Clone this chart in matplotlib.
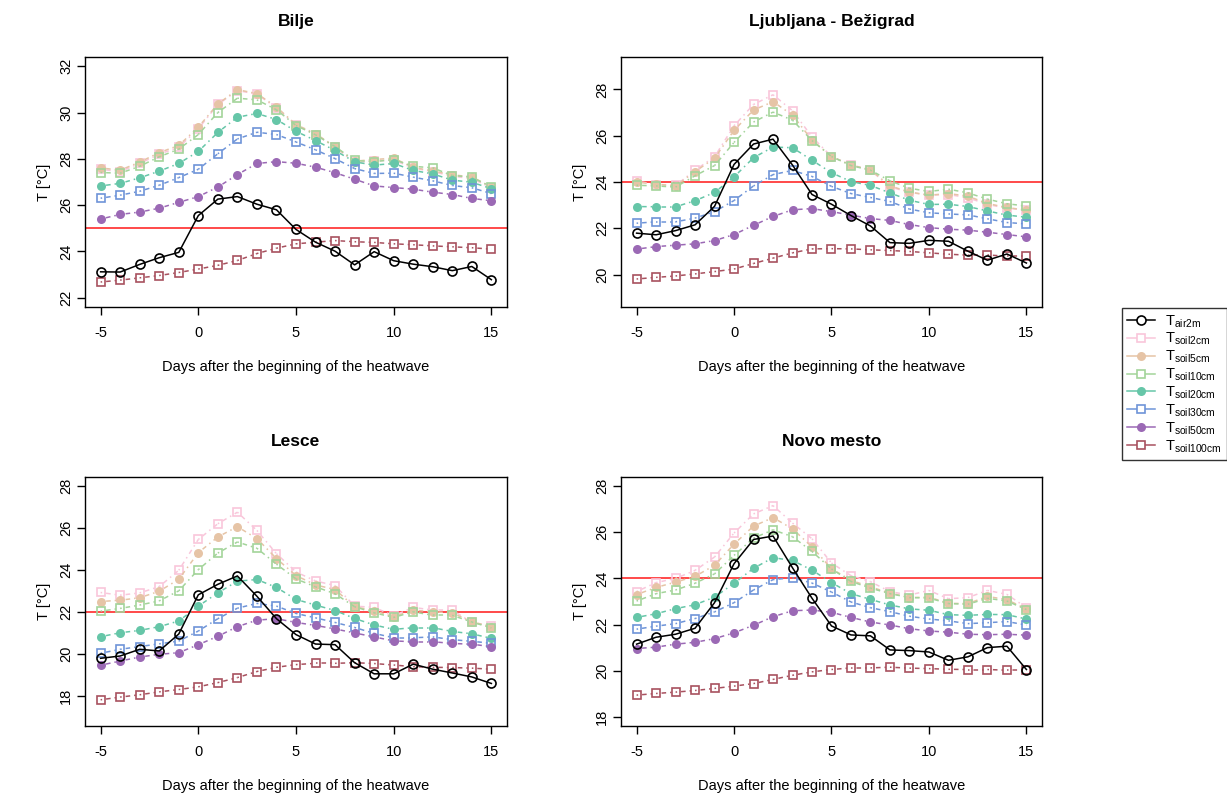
import matplotlib
matplotlib.use("Agg")
import matplotlib.pyplot as plt
from matplotlib.lines import Line2D
import numpy as np

plt.rcParams['font.family'] = ['Liberation Sans', 'DejaVu Sans']
plt.rcParams['mathtext.fontset'] = 'custom'
plt.rcParams['mathtext.rm'] = 'Liberation Sans'
plt.rcParams['mathtext.it'] = 'Liberation Sans'

days = list(range(-5, 16))

stations = ["Bilje", "Ljubljana - Bežigrad", "Lesce", "Novo mesto"]
thresholds = [25, 24, 22, 24]
ylims = [(22, 32), (19, 29), (17, 28), (18, 28)]
yticks = [[22, 24, 26, 28, 30, 32], [20, 22, 24, 26, 28], [18, 20, 22, 24, 26, 28], [18, 20, 22, 24, 26, 28]]

series_names = ["air2m", "soil2cm", "soil5cm", "soil10cm", "soil20cm", "soil30cm", "soil50cm", "soil100cm"]
series_colors = ["#000000", "#F9C6DA", "#E6C4A6", "#A3D49A", "#66C6A8", "#6E94D8", "#9B69B5", "#A8515F"]
series_markers = ["o", "s", "o", "s", "o", "s", "o", "s"]
series_filled = [False, False, True, False, True, False, True, False]

# ---- Bilje ----
bilje_air2m = [23.12, 23.11, 23.44, 23.73, 23.96, 25.55, 26.26, 26.37, 26.04, 25.80, 24.95, 24.40, 24.01, 23.42, 23.99, 23.60, 23.45, 23.34, 23.17, 23.35, 22.78]
bilje_soil2cm = [27.55, 27.45, 27.80, 28.20, 28.50, 29.30, 30.35, 30.95, 30.80, 30.20, 29.45, 29.05, 28.50, 27.85, 27.90, 27.95, 27.60, 27.45, 27.25, 27.15, 26.75]
bilje_soil5cm = [27.61, 27.51, 27.86, 28.27, 28.58, 29.37, 30.37, 30.99, 30.82, 30.24, 29.48, 29.09, 28.52, 27.90, 27.97, 28.03, 27.63, 27.48, 27.31, 27.22, 26.79]
bilje_soil10cm = [27.41, 27.38, 27.68, 28.09, 28.42, 29.05, 30.00, 30.62, 30.55, 30.12, 29.44, 29.04, 28.53, 27.93, 27.88, 27.97, 27.68, 27.61, 27.28, 27.21, 26.78]
bilje_soil20cm = [26.83, 26.94, 27.18, 27.47, 27.80, 28.32, 29.14, 29.80, 29.96, 29.70, 29.19, 28.79, 28.36, 27.87, 27.73, 27.80, 27.50, 27.35, 27.08, 26.99, 26.71]
bilje_soil30cm = [26.30, 26.43, 26.60, 26.86, 27.19, 27.55, 28.22, 28.86, 29.15, 29.05, 28.73, 28.39, 28.01, 27.58, 27.37, 27.38, 27.21, 27.05, 26.85, 26.75, 26.50]
bilje_soil50cm = [25.40, 25.60, 25.70, 25.87, 26.12, 26.37, 26.78, 27.32, 27.80, 27.88, 27.81, 27.64, 27.40, 27.12, 26.83, 26.76, 26.69, 26.56, 26.46, 26.29, 26.19]
bilje_soil100cm = [22.68, 22.76, 22.86, 22.96, 23.09, 23.24, 23.40, 23.61, 23.91, 24.14, 24.33, 24.40, 24.47, 24.42, 24.39, 24.33, 24.29, 24.24, 24.20, 24.16, 24.10]

# ---- Ljubljana - Bežigrad ----
ljub_air2m = [21.79, 21.72, 21.90, 22.15, 22.95, 24.76, 25.64, 25.85, 24.73, 23.46, 23.04, 22.55, 22.10, 21.38, 21.35, 21.48, 21.44, 21.01, 20.62, 20.89, 20.50]
ljub_soil2cm = [24.04, 23.89, 23.85, 24.51, 25.09, 26.43, 27.35, 27.77, 27.08, 25.95, 25.10, 24.74, 24.51, 23.79, 23.55, 23.43, 23.46, 23.32, 23.03, 22.87, 22.78]
ljub_soil5cm = [23.99, 23.91, 23.83, 24.45, 25.03, 26.23, 27.11, 27.47, 26.89, 25.81, 25.10, 24.73, 24.53, 23.83, 23.57, 23.43, 23.50, 23.39, 23.07, 22.90, 22.78]
ljub_soil10cm = [23.86, 23.83, 23.78, 24.27, 24.71, 25.71, 26.59, 27.02, 26.67, 25.79, 25.10, 24.71, 24.51, 24.05, 23.73, 23.59, 23.69, 23.53, 23.26, 23.06, 22.96]
ljub_soil20cm = [22.94, 22.93, 22.93, 23.19, 23.55, 24.22, 25.05, 25.51, 25.48, 24.94, 24.40, 24.02, 23.85, 23.53, 23.21, 23.03, 23.04, 22.94, 22.75, 22.57, 22.48]
ljub_soil30cm = [22.22, 22.28, 22.28, 22.44, 22.72, 23.20, 23.83, 24.32, 24.50, 24.24, 23.81, 23.50, 23.33, 23.16, 22.83, 22.67, 22.62, 22.58, 22.41, 22.25, 22.19]
ljub_soil50cm = [21.10, 21.21, 21.27, 21.33, 21.47, 21.73, 22.13, 22.51, 22.80, 22.85, 22.72, 22.57, 22.42, 22.34, 22.16, 22.03, 21.96, 21.92, 21.83, 21.73, 21.63]
ljub_soil100cm = [19.81, 19.88, 19.94, 20.03, 20.13, 20.24, 20.48, 20.71, 20.94, 21.11, 21.12, 21.11, 21.07, 21.04, 21.00, 20.94, 20.88, 20.84, 20.85, 20.79, 20.79]

# ---- Lesce ----
lesce_air2m = [19.79, 19.90, 20.22, 20.14, 20.95, 22.82, 23.32, 23.72, 22.75, 21.68, 20.92, 20.47, 20.44, 19.58, 19.05, 19.05, 19.51, 19.27, 19.09, 18.90, 18.59]
lesce_soil2cm = [22.93, 22.80, 22.91, 23.21, 23.99, 25.46, 26.21, 26.76, 25.89, 24.78, 23.91, 23.48, 23.26, 22.28, 22.22, 21.82, 22.22, 22.09, 22.09, 21.50, 21.34]
lesce_soil5cm = [22.50, 22.56, 22.68, 22.99, 23.56, 24.83, 25.58, 26.07, 25.50, 24.55, 23.74, 23.29, 23.07, 22.25, 22.06, 21.77, 22.09, 22.01, 21.96, 21.53, 21.30]
lesce_soil10cm = [22.04, 22.17, 22.33, 22.53, 23.01, 24.02, 24.81, 25.34, 25.04, 24.28, 23.58, 23.20, 22.87, 22.25, 21.96, 21.74, 22.01, 21.84, 21.84, 21.52, 21.24]
lesce_soil20cm = [20.82, 21.01, 21.12, 21.30, 21.57, 22.28, 22.91, 23.47, 23.55, 23.17, 22.60, 22.33, 22.07, 21.69, 21.38, 21.17, 21.25, 21.25, 21.07, 20.96, 20.74]
lesce_soil30cm = [20.03, 20.22, 20.35, 20.48, 20.61, 21.09, 21.68, 22.18, 22.41, 22.28, 21.93, 21.72, 21.50, 21.26, 20.98, 20.77, 20.77, 20.81, 20.68, 20.60, 20.51]
lesce_soil50cm = [19.46, 19.66, 19.85, 19.98, 20.06, 20.44, 20.84, 21.30, 21.61, 21.68, 21.50, 21.36, 21.19, 21.00, 20.81, 20.62, 20.58, 20.58, 20.50, 20.46, 20.35]
lesce_soil100cm = [17.81, 17.94, 18.05, 18.19, 18.30, 18.43, 18.63, 18.87, 19.16, 19.36, 19.49, 19.55, 19.55, 19.58, 19.54, 19.47, 19.39, 19.36, 19.35, 19.32, 19.27]

# ---- Novo mesto ----
novo_air2m = [21.15, 21.45, 21.58, 21.84, 22.95, 24.64, 25.69, 25.84, 24.46, 23.14, 21.94, 21.55, 21.51, 20.90, 20.87, 20.81, 20.45, 20.60, 21.00, 21.06, 20.05]
novo_soil2cm = [23.43, 23.82, 24.00, 24.35, 24.93, 25.97, 26.80, 27.16, 26.40, 25.72, 24.67, 24.12, 23.86, 23.43, 23.28, 23.48, 23.12, 23.17, 23.48, 23.31, 22.73]
novo_soil5cm = [23.30, 23.61, 23.84, 24.09, 24.57, 25.49, 26.27, 26.64, 26.15, 25.37, 24.42, 23.92, 23.63, 23.37, 23.17, 23.19, 22.92, 22.91, 23.22, 23.08, 22.68]
novo_soil10cm = [23.02, 23.34, 23.50, 23.79, 24.20, 25.00, 25.75, 26.11, 25.81, 25.17, 24.41, 23.87, 23.58, 23.34, 23.17, 23.15, 22.91, 22.88, 23.14, 23.02, 22.65]
novo_soil20cm = [22.31, 22.47, 22.69, 22.86, 23.19, 23.79, 24.44, 24.90, 24.78, 24.36, 23.82, 23.34, 23.09, 22.85, 22.68, 22.62, 22.43, 22.40, 22.44, 22.43, 22.24]
novo_soil30cm = [21.80, 21.93, 22.04, 22.26, 22.55, 22.95, 23.50, 23.95, 24.03, 23.80, 23.41, 22.98, 22.73, 22.56, 22.36, 22.24, 22.16, 22.04, 22.08, 22.13, 21.98]
novo_soil50cm = [20.96, 21.02, 21.15, 21.23, 21.39, 21.64, 21.97, 22.34, 22.60, 22.63, 22.53, 22.31, 22.11, 21.98, 21.82, 21.72, 21.67, 21.58, 21.56, 21.58, 21.54]
novo_soil100cm = [18.94, 19.01, 19.07, 19.14, 19.23, 19.33, 19.44, 19.62, 19.80, 19.95, 20.05, 20.12, 20.12, 20.15, 20.11, 20.09, 20.06, 20.05, 20.05, 20.02, 20.02]

station_data = [
    [bilje_air2m, bilje_soil2cm, bilje_soil5cm, bilje_soil10cm, bilje_soil20cm, bilje_soil30cm, bilje_soil50cm, bilje_soil100cm],
    [ljub_air2m, ljub_soil2cm, ljub_soil5cm, ljub_soil10cm, ljub_soil20cm, ljub_soil30cm, ljub_soil50cm, ljub_soil100cm],
    [lesce_air2m, lesce_soil2cm, lesce_soil5cm, lesce_soil10cm, lesce_soil20cm, lesce_soil30cm, lesce_soil50cm, lesce_soil100cm],
    [novo_air2m, novo_soil2cm, novo_soil5cm, novo_soil10cm, novo_soil20cm, novo_soil30cm, novo_soil50cm, novo_soil100cm],
]

W, H = 1227, 799
fig = plt.figure(figsize=(W / 100, H / 100), dpi=100)

def frac_rect(left, top, right, bottom):
    return [left / W, 1 - bottom / H, (right - left) / W, (bottom - top) / H]

rects = [
    frac_rect(85, 57, 507, 307),
    frac_rect(621, 57, 1042, 307),
    frac_rect(85, 477, 507, 726),
    frac_rect(621, 477, 1042, 726),
]

soil_ls = (0, (1.0, 2.6, 3.0, 2.6))

for k in range(4):
    ax = fig.add_axes(rects[k])
    data = station_data[k]
    ax.axhline(thresholds[k], color="#FF2A2A", lw=1.2, zorder=1)
    order = list(range(1, 8)) + [0]
    for i in order:
        vals = data[i]
        col = series_colors[i]
        z = 5 if i == 0 else 2 + i * 0.1
        if i == 0:
            ax.plot(days, vals, color=col, lw=1.1, ls="-", zorder=z)
        else:
            for j in range(len(days) - 1):
                ax.plot(days[j:j + 2], vals[j:j + 2], color=col, lw=1.1,
                        ls=soil_ls, zorder=z)
        ms = 6.5 if series_markers[i] == "o" else 5.8
        fc = col if series_filled[i] else "none"
        mew = 0 if series_filled[i] else 1.2
        ax.plot(days, vals, ls="none", marker=series_markers[i], ms=ms,
                mfc=fc, mec=col, mew=mew, zorder=z + 0.05)
    lo, hi = ylims[k]
    pad = 0.04 * (hi - lo)
    ax.set_ylim(lo - pad, hi + pad)
    ax.set_xlim(-5.8, 15.8)
    ax.set_xticks([-5, 0, 5, 10, 15])
    ax.set_xticklabels(["-5", "0", "5", "10", "15"])
    ax.set_yticks(yticks[k])
    ax.set_yticklabels([str(v) for v in yticks[k]], rotation=90, va="center")
    ax.tick_params(axis="both", direction="out", length=6, width=1, labelsize=10.5, colors="black")
    ax.tick_params(axis="x", pad=8)
    ax.tick_params(axis="y", pad=2.5)
    for s in ax.spines.values():
        s.set_linewidth(1.0)
        s.set_color("black")
    ax.set_title(stations[k], fontsize=12.5, fontweight="bold", pad=22)
    ax.set_xlabel("Days after the beginning of the heatwave", fontsize=10.5, labelpad=14)
    ax.set_ylabel("T [°C]", fontsize=10.5, labelpad=6)

handles = []
labels = []
for i, name in enumerate(series_names):
    col = series_colors[i]
    fc = col if series_filled[i] else "white"
    ms = 6.5 if series_markers[i] == "o" else 5.8
    handles.append(Line2D([0], [0], color=col, lw=1.1, marker=series_markers[i], ms=ms,
                          mfc=fc, mec=col, mew=0 if series_filled[i] else 1.2))
    labels.append(r"$\mathregular{T_{%s}}$" % name)

leg = fig.legend(handles, labels, loc="upper left",
                 bbox_to_anchor=(1122 / W, 1 - 308 / H),
                 frameon=True, fancybox=False, edgecolor="black",
                 fontsize=10.5, handlelength=1.9, handletextpad=0.7,
                 labelspacing=0.1, borderpad=0.35, borderaxespad=0)
leg.get_frame().set_linewidth(1.0)

fig.savefig("out.png", dpi=100)
